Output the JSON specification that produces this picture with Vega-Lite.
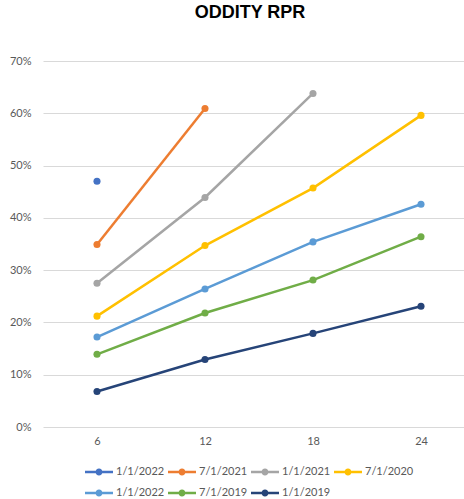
{
  "$schema": "https://vega.github.io/schema/vega-lite/v6.json",
  "autosize": "none",
  "width": 432,
  "height": 366,
  "padding": {"left": 43, "top": 61, "right": 0, "bottom": 72},
  "background": "white",
  "title": {"text": "ODDITY RPR", "font": "Liberation Sans", "fontSize": 18, "fontWeight": "bold", "color": "#000000", "anchor": "middle", "dx": -9, "offset": 33},
  "config": {"view": {"stroke": null}, "font": "Lato"},
  "data": {"values": [
    {"series": "1/1/2022", "month": 6, "rpr": 0.470},
    {"series": "7/1/2021", "month": 6, "rpr": 0.349},
    {"series": "7/1/2021", "month": 12, "rpr": 0.609},
    {"series": "1/1/2021", "month": 6, "rpr": 0.275},
    {"series": "1/1/2021", "month": 12, "rpr": 0.439},
    {"series": "1/1/2021", "month": 18, "rpr": 0.638},
    {"series": "7/1/2020", "month": 6, "rpr": 0.212},
    {"series": "7/1/2020", "month": 12, "rpr": 0.347},
    {"series": "7/1/2020", "month": 18, "rpr": 0.457},
    {"series": "7/1/2020", "month": 24, "rpr": 0.596},
    {"series": "1/1/2020", "month": 6, "rpr": 0.172},
    {"series": "1/1/2020", "month": 12, "rpr": 0.264},
    {"series": "1/1/2020", "month": 18, "rpr": 0.354},
    {"series": "1/1/2020", "month": 24, "rpr": 0.426},
    {"series": "7/1/2019", "month": 6, "rpr": 0.139},
    {"series": "7/1/2019", "month": 12, "rpr": 0.218},
    {"series": "7/1/2019", "month": 18, "rpr": 0.281},
    {"series": "7/1/2019", "month": 24, "rpr": 0.364},
    {"series": "1/1/2019", "month": 6, "rpr": 0.068},
    {"series": "1/1/2019", "month": 12, "rpr": 0.129},
    {"series": "1/1/2019", "month": 18, "rpr": 0.179},
    {"series": "1/1/2019", "month": 24, "rpr": 0.231}
  ]},
  "encoding": {
    "x": {"field": "month", "type": "ordinal", "title": null,
      "axis": {"labelAngle": 0, "domain": false, "ticks": false, "grid": false, "labelFontSize": 11, "labelColor": "#595959", "labelPadding": 8, "labelFont": "Lato"}},
    "y": {"field": "rpr", "type": "quantitative", "title": null,
      "scale": {"domain": [0, 0.7], "nice": false},
      "axis": {"values": [0, 0.1, 0.2, 0.3, 0.4, 0.5, 0.6, 0.7], "format": ".0%", "domain": false, "ticks": false, "gridColor": "#D9D9D9", "gridWidth": 1, "labelFontSize": 11, "labelColor": "#595959", "labelPadding": 12, "labelFont": "Lato"}},
    "color": {"field": "series", "type": "nominal", "title": null,
      "scale": {"domain": ["1/1/2022", "7/1/2021", "1/1/2021", "7/1/2020", "1/1/2020", "7/1/2019", "1/1/2019"],
        "range": ["#4472C4", "#ED7D31", "#A5A5A5", "#FFC000", "#5B9BD5", "#70AD47", "#264478"]},
      "legend": {"orient": "none", "legendX": 42, "legendY": 397, "direction": "horizontal", "columns": 4,
        "labelExpr": "datum.label == '1/1/2020' ? '1/1/2022' : datum.label",
        "labelFont": "Lato", "labelFontSize": 11, "labelColor": "#595959",
        "symbolType": "M-1,-0.09L1,-0.09L1,0.09L-1,0.09Z M0.25,0 A0.25,0.25 0 1,1 -0.25,0 A0.25,0.25 0 1,1 0.25,0 Z",
        "symbolSize": 784, "symbolStrokeWidth": 0, "labelOffset": 3, "columnPadding": 3, "rowPadding": 2,
        "encode": {"symbols": {"update": {"fill": {"scale": "color", "field": "value"}, "stroke": {"value": "transparent"}, "opacity": {"value": 1}}}}}}
  },
  "layer": [
    {"mark": {"type": "line", "strokeWidth": 2.5}},
    {"mark": {"type": "circle", "size": 50, "opacity": 1}}
  ]
}
